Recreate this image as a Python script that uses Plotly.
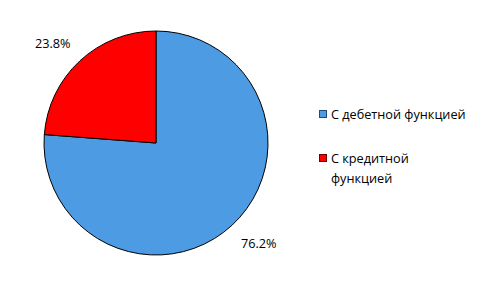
import numpy as np
import plotly.graph_objects as go

categories = ["С дебетной функцией", "С кредитной функцией"]
legend_lines = [["С дебетной функцией"], ["С кредитной", "функцией"]]
values = [76.2, 23.8]
labels_txt = ["76.2%", "23.8%"]
colors = ["#4C9BE3", "#FF0000"]
borders = ["#1F4A80", "#700000"]

W, H = 487, 293
cx, cy, r = 156, 143, 112  # pixel center / radius (from top-left)

fig = go.Figure()
fig.add_trace(go.Pie(
    labels=categories, values=values, sort=False, direction="clockwise",
    rotation=0, textinfo="none", hoverinfo="label+percent",
    marker=dict(colors=colors, line=dict(color="#000000", width=1)),
    domain=dict(x=[(cx - r) / W, (cx + r) / W], y=[(H - cy - r) / H, (H - cy + r) / H]),
    showlegend=False,
))

font = dict(family="Open Sans", size=12.7, color="#000000")
ann = []
# percentage labels outside slices, anchored at the slice mid-angle
tot = sum(values)
start = 0.0
for v, t in zip(values, labels_txt):
    mid = (start + v / 2) / tot * 2 * np.pi
    start += v
    s, c = np.sin(mid), np.cos(mid)
    px = cx + 1.1 * r * s
    py = cy - 1.1 * r * c
    ann.append(dict(x=px / W, y=1 - py / H, xref="paper", yref="paper", text=t,
                    showarrow=False, font=font, borderpad=0,
                    xanchor="left" if s > 0 else "right",
                    yanchor="top" if c < 0 else "bottom"))

# legend built with annotations
leg_y = [114, 158]
line_h = 19.5
for col, bc, lines, ly in zip(colors, borders, legend_lines, leg_y):
    ann.append(dict(x=319 / W, y=1 - ly / H, xref="paper", yref="paper", text="",
                    showarrow=False, width=6, height=6, bgcolor=col,
                    bordercolor=bc, borderwidth=1,
                    borderpad=0, xanchor="left", yanchor="middle"))
    for i, ln in enumerate(lines):
        ann.append(dict(x=330 / W, y=1 - (ly + i * line_h) / H, xref="paper", yref="paper",
                        text=ln, showarrow=False, font=font, xanchor="left",
                        yanchor="middle", align="left", borderpad=0))

fig.update_layout(width=W, height=H, margin=dict(l=0, r=0, t=0, b=0),
                  paper_bgcolor="#FFFFFF", plot_bgcolor="#FFFFFF", annotations=ann)
fig.write_html("out.html")
